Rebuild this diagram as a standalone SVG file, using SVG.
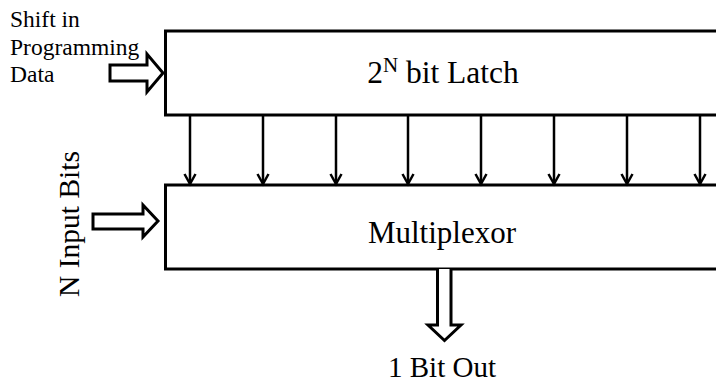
<svg xmlns="http://www.w3.org/2000/svg" width="716" height="386" viewBox="0 0 716 386">
  <style>
    .box { fill: #ffffff; stroke: #000000; stroke-width: 3; }
    .bus { fill: #ffffff; stroke: #000000; stroke-width: 3; stroke-linejoin: miter; }
    .wire { fill: none; stroke: #000000; stroke-width: 2.5; }
    .label { font-family: "Liberation Serif", "Times New Roman", serif; fill: #000000; }
  </style>
  <rect width="716" height="386" fill="#ffffff"/>

  <!-- latch -->
  <g id="latch">
    <rect class="box" x="165.5" y="31" width="600" height="84"/>
    <text class="label" x="443" y="83" font-size="31.5" text-anchor="middle">2<tspan font-size="21" dy="-11">N</tspan><tspan dy="11"> bit Latch</tspan></text>
  </g>

  <!-- multiplexor -->
  <g id="mux">
    <rect class="box" x="165.5" y="185" width="600" height="84"/>
    <text class="label" x="442" y="243" font-size="31" text-anchor="middle">Multiplexor</text>
  </g>

  <!-- programming data input -->
  <g id="prog-in">
    <text class="label" x="10" y="27" font-size="23.5">Shift in</text>
    <text class="label" x="10" y="55" font-size="23.5">Programming</text>
    <text class="label" x="10" y="82" font-size="23.5">Data</text>
  </g>

  <!-- select input label -->
  <g id="sel-in">
    <text class="label" transform="translate(79 224) rotate(-90)" font-size="29.5" text-anchor="middle">N Input Bits</text>
  </g>

  <!-- output label -->
  <g id="out">
    <text class="label" x="442" y="377" font-size="29" text-anchor="middle">1 Bit Out</text>
  </g>

  <g id="connectors">
    <!-- latch outputs to multiplexor data inputs -->
    <g class="wires">
      <path class="wire" d="M190 115 V184"/>
      <path class="wire" d="M263 115 V184"/>
      <path class="wire" d="M336 115 V184"/>
      <path class="wire" d="M408 115 V184"/>
      <path class="wire" d="M481 115 V184"/>
      <path class="wire" d="M554 115 V184"/>
      <path class="wire" d="M627 115 V184"/>
      <path class="wire" d="M700 115 V184"/>
      <path class="wire" d="M184.5 174 L190 184 L195.5 174"/>
      <path class="wire" d="M257.5 174 L263 184 L268.5 174"/>
      <path class="wire" d="M330.5 174 L336 184 L341.5 174"/>
      <path class="wire" d="M402.5 174 L408 184 L413.5 174"/>
      <path class="wire" d="M475.5 174 L481 184 L486.5 174"/>
      <path class="wire" d="M548.5 174 L554 184 L559.5 174"/>
      <path class="wire" d="M621.5 174 L627 184 L632.5 174"/>
      <path class="wire" d="M694.5 174 L700 184 L705.5 174"/>
    </g>
    <!-- block arrows -->
    <path class="bus" d="M110 65 H147 V54 L163 73 L147 92 V81 H110 Z"/>
    <path class="bus" d="M93 214 H143 V205 L158 221 L143 237 V229 H93 Z"/>
    <path class="bus" d="M437.5 269 V325 H428 L444.5 340.5 L461 325 H451 V269"/>
  </g>
</svg>
